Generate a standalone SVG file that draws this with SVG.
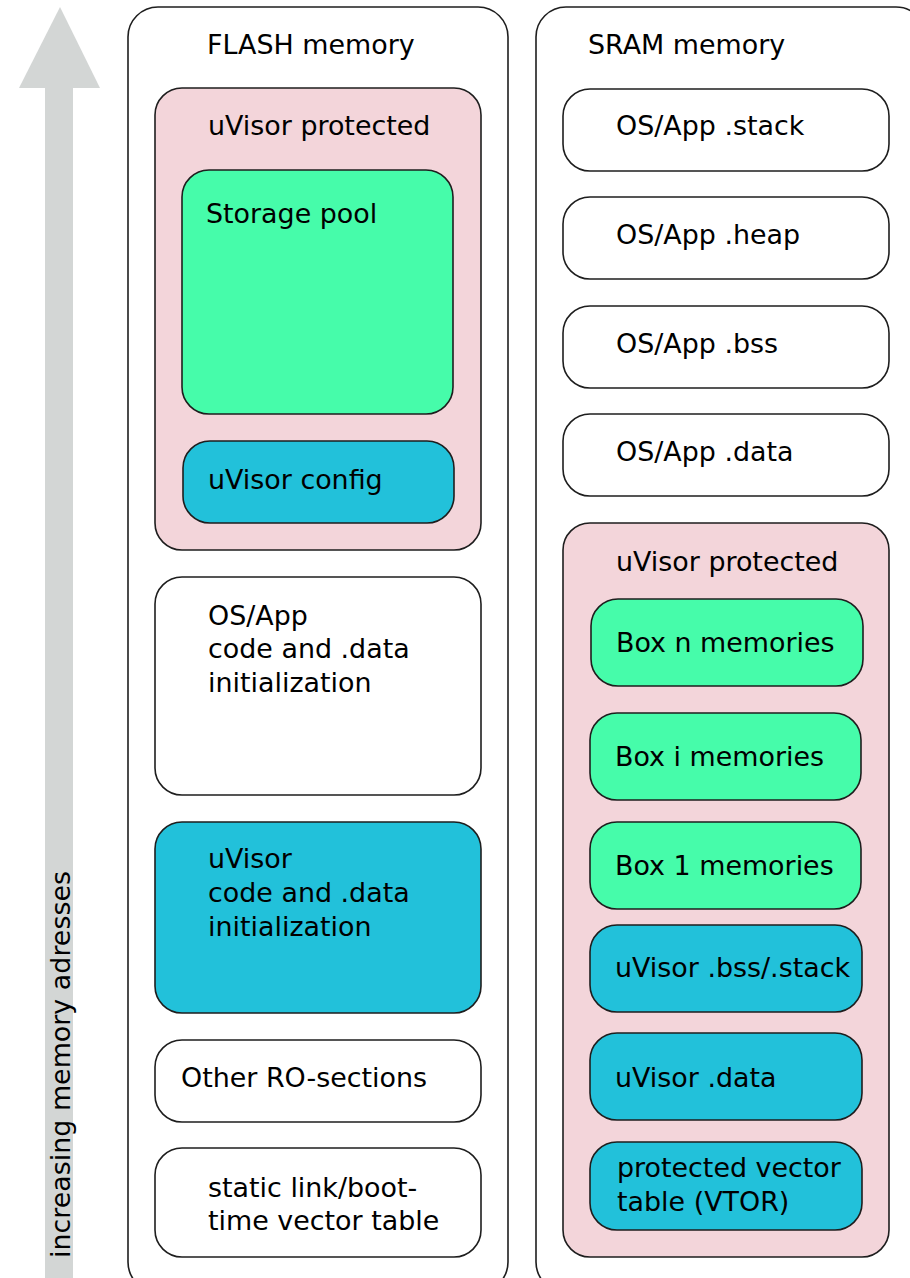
<svg xmlns="http://www.w3.org/2000/svg" width="910" height="1278" viewBox="0 0 910 1278">
<style>
.b{stroke:#1e1e1e;stroke-width:1.6}
.w{fill:#ffffff}
.p{fill:#f3d5da}
.g{fill:#46fcaa}
.c{fill:#22c1da}
text{font-family:"DejaVu Sans",sans-serif;font-size:26.9px;fill:#000}
</style>
<rect width="910" height="1278" fill="#ffffff"/>
<g id="arrow">
<polygon points="60,7 19,88 100,88" fill="#d3d6d5"/>
<rect x="45" y="87" width="28" height="1195" fill="#d3d6d5"/>
<text transform="translate(70,1258) rotate(-90)">increasing memory adresses</text>
</g>
<g id="flash">
<rect class="b w" x="128" y="7" width="380" height="1285" rx="30"/>
<text x="207" y="54">FLASH memory</text>
</g>
<g id="flash-protected">
<rect class="b p" x="155" y="88" width="326" height="462" rx="27"/>
<text x="208" y="135">uVisor protected</text>
</g>
<g id="storage-pool">
<rect class="b g" x="182" y="170" width="271" height="244" rx="27"/>
<text x="206" y="223">Storage pool</text>
</g>
<g id="uvisor-config">
<rect class="b c" x="183" y="441" width="271" height="82" rx="27"/>
<text x="208" y="489">uVisor config</text>
</g>
<g id="osapp-code">
<rect class="b w" x="155" y="577" width="326" height="218" rx="27"/>
<text x="208" y="625">OS/App</text>
<text x="208" y="658">code and .data</text>
<text x="208" y="692">initialization</text>
</g>
<g id="uvisor-code">
<rect class="b c" x="155" y="822" width="326" height="191" rx="27"/>
<text x="208" y="868">uVisor</text>
<text x="208" y="902">code and .data</text>
<text x="208" y="936">initialization</text>
</g>
<g id="other-ro">
<rect class="b w" x="155" y="1040" width="326" height="82" rx="27"/>
<text x="181" y="1087">Other RO-sections</text>
</g>
<g id="static-vector">
<rect class="b w" x="155" y="1148" width="326" height="109" rx="27"/>
<text x="208" y="1197">static link/boot-</text>
<text x="208" y="1230">time vector table</text>
</g>
<g id="sram">
<rect class="b w" x="536" y="7" width="390" height="1285" rx="30"/>
<text x="588" y="54">SRAM memory</text>
</g>
<g id="osapp-stack">
<rect class="b w" x="563" y="89" width="326" height="82" rx="27"/>
<text x="616" y="135">OS/App .stack</text>
</g>
<g id="osapp-heap">
<rect class="b w" x="563" y="197" width="326" height="82" rx="27"/>
<text x="616" y="244">OS/App .heap</text>
</g>
<g id="osapp-bss">
<rect class="b w" x="563" y="306" width="326" height="82" rx="27"/>
<text x="616" y="353">OS/App .bss</text>
</g>
<g id="osapp-data">
<rect class="b w" x="563" y="414" width="326" height="82" rx="27"/>
<text x="616" y="461">OS/App .data</text>
</g>
<g id="sram-protected">
<rect class="b p" x="563" y="523" width="326" height="734" rx="27"/>
<text x="616" y="571">uVisor protected</text>
</g>
<g id="box-n">
<rect class="b g" x="591" y="599" width="272" height="87" rx="27"/>
<text x="616" y="652">Box n memories</text>
</g>
<g id="box-i">
<rect class="b g" x="590" y="713" width="271" height="87" rx="27"/>
<text x="615" y="766">Box i memories</text>
</g>
<g id="box-1">
<rect class="b g" x="590" y="822" width="271" height="87" rx="27"/>
<text x="615" y="875">Box 1 memories</text>
</g>
<g id="uvisor-bss">
<rect class="b c" x="590" y="925" width="272" height="87" rx="27"/>
<text x="615" y="977">uVisor .bss/.stack</text>
</g>
<g id="uvisor-data">
<rect class="b c" x="590" y="1033" width="272" height="87" rx="27"/>
<text x="615" y="1087">uVisor .data</text>
</g>
<g id="vtor">
<rect class="b c" x="590" y="1142" width="272" height="88" rx="27"/>
<text x="617" y="1177">protected vector</text>
<text x="617" y="1211">table (VTOR)</text>
</g>
<g id="connectors"></g>
</svg>
